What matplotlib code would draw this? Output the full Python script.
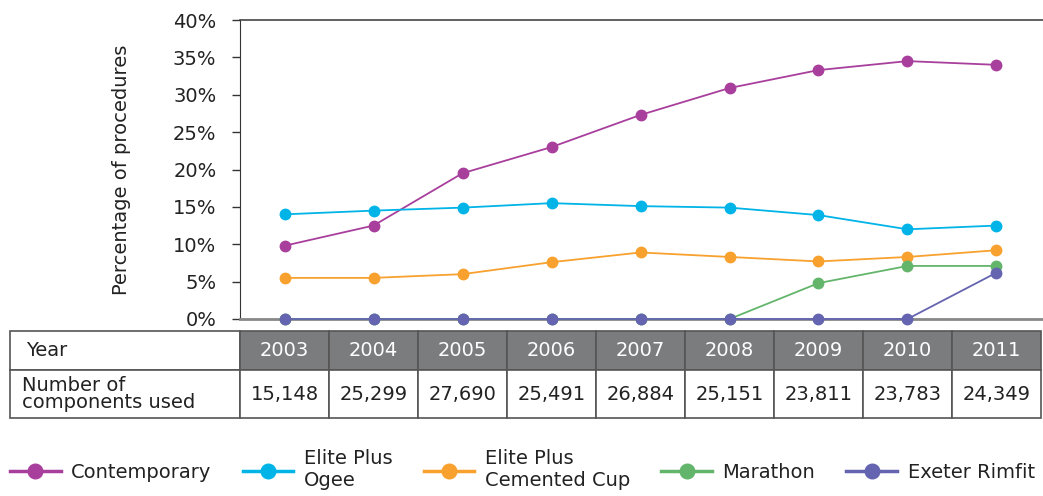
import matplotlib
matplotlib.use("Agg")
import matplotlib.pyplot as plt
from matplotlib.lines import Line2D
from matplotlib.patches import Rectangle
from matplotlib.ticker import FuncFormatter

plt.rcParams['font.family'] = ['DejaVu Sans']
plt.rcParams['font.size'] = 14

# data
years = [2003, 2004, 2005, 2006, 2007, 2008, 2009, 2010, 2011]
counts = ['15,148', '25,299', '27,690', '25,491', '26,884', '25,151', '23,811', '23,783', '24,349']

contemporary = [9.8, 12.5, 19.5, 23.0, 27.3, 30.9, 33.3, 34.5, 34.0]
ogee = [14.0, 14.5, 14.9, 15.5, 15.1, 14.9, 13.9, 12.0, 12.5]
cemented = [5.5, 5.5, 6.0, 7.6, 8.9, 8.3, 7.7, 8.3, 9.2]
marathon = [0, 0, 0, 0, 0, 0, 4.8, 7.1, 7.1]
exeter = [0, 0, 0, 0, 0, 0, 0, 0, 6.2]

names = ['Contemporary', 'Elite Plus\nOgee', 'Elite Plus\nCemented Cup', 'Marathon', 'Exeter Rimfit']
colors = ['#a83f9c', '#00b4e8', '#f8a12e', '#63b56b', '#6464b0']
series = [contemporary, ogee, cemented, marathon, exeter]

W, H = 1043, 496
fig = plt.figure(figsize=(W / 100, H / 100), dpi=100)

ppy = 89.0  # pixels per year column
x0 = 2002.5

# line chart
ax = fig.add_axes([240 / W, 1 - 319 / H, 803 / W, 299 / H])
for vals, c in zip(series, colors):
    ax.plot(years, vals, color=c, lw=1.3, marker='o', ms=7.5, zorder=3, clip_on=False)

ax.set_xlim(x0, x0 + 803 / ppy)
ax.set_ylim(0, 40)
ax.set_yticks(range(0, 41, 5))
ax.yaxis.set_major_formatter(FuncFormatter(lambda v, p: f'{v:.0f}%'))
ax.set_xticks([])
ax.tick_params(axis='y', direction='out', length=6, width=1, color='#333333', pad=11,
               labelsize=14, labelcolor='#222222')
ax.spines['left'].set_color('#333333')
ax.spines['top'].set_color('#444444')
ax.spines['top'].set_linewidth(1.2)
ax.spines['right'].set_color('#e6e6e6')
ax.spines['bottom'].set_color('#888888')
ax.spines['bottom'].set_linewidth(2)
ax.set_ylabel('Percentage of procedures', fontsize=14, color='#222222', labelpad=30)

# table underneath
tx = fig.add_axes([10 / W, 1 - 418 / H, 1033 / W, 87 / H])
tx.set_xlim(x0 - 230 / ppy, x0 + 803 / ppy)
tx.set_ylim(87, 0)
tx.axis('off')

edge = '#555555'
left = x0 - 230 / ppy
tx.add_patch(Rectangle((left, 0), 230 / ppy, 39, facecolor='white', edgecolor=edge, lw=1.2, clip_on=False))
tx.add_patch(Rectangle((left, 39), 230 / ppy, 48, facecolor='white', edgecolor=edge, lw=1.2, clip_on=False))
tx.text(left + 16 / ppy, 19.5, 'Year', ha='left', va='center', fontsize=14, color='#222222')
tx.text(left + 12 / ppy, 63, 'Number of\ncomponents used', ha='left', va='center', fontsize=14,
        color='#222222', linespacing=0.9)
for yr, cnt in zip(years, counts):
    tx.add_patch(Rectangle((yr - 0.5, 0), 1, 39, facecolor='#7b7c7e', edgecolor=edge, lw=1.2, clip_on=False))
    tx.add_patch(Rectangle((yr - 0.5, 39), 1, 48, facecolor='white', edgecolor=edge, lw=1.2, clip_on=False))
    tx.text(yr, 19.5, str(yr), ha='center', va='center', fontsize=14, color='white')
    tx.text(yr, 63, cnt, ha='center', va='center', fontsize=14, color='#222222')

# legend
handles = [Line2D([], [], color=c, lw=2.5, marker='o', ms=10.5) for c in colors]
fig.legend(handles, names, loc='center left', bbox_to_anchor=(10 / W, 1 - 470 / H), ncol=5,
           frameon=False, handlelength=2.6, handletextpad=0.55, columnspacing=1.6,
           borderpad=0, borderaxespad=0, fontsize=14, labelcolor='#222222')

fig.savefig('out.png', dpi=100)
